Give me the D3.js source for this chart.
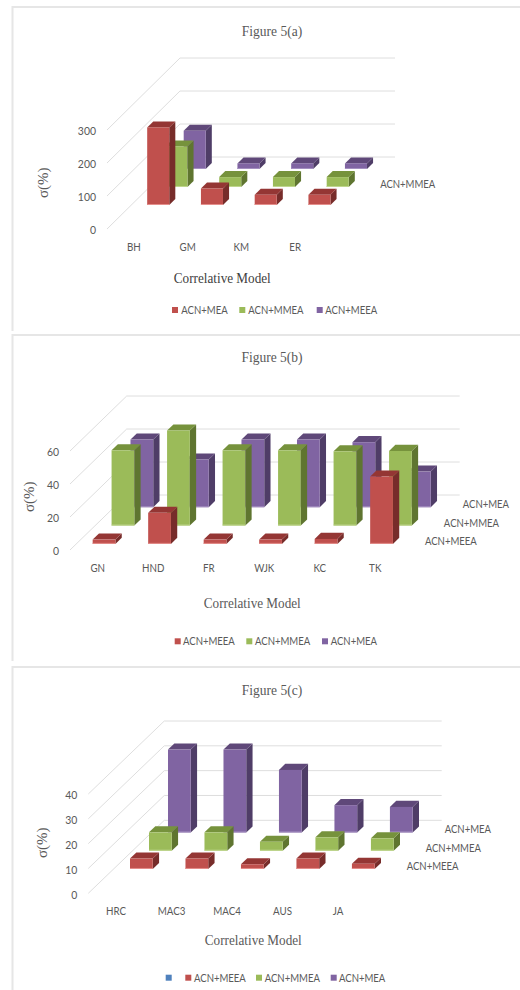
<!DOCTYPE html>
<html>
<head>
<meta charset="utf-8">
<title>Figure 5</title>
<script src="https://cdn.jsdelivr.net/npm/d3@7"></script>
<style>
  html, body { margin: 0; padding: 0; background: #fff; overflow: hidden; }
  svg { display: block; }
  .sans { font-family: Lato, "Liberation Sans", sans-serif; fill: #595959; }
  .serif { font-family: "Liberation Serif", serif; fill: #595959; }
</style>
</head>
<body>
<svg width="520" height="990"></svg>
<script>
const categoriesA = ['BH', 'GM', 'KM', 'ER'];
const seriesA = ['', 'ACN+MEA', 'ACN+MMEA', 'ACN+MEEA'];
const meaA = [235, 50, 31, 31];
const mmeaA = [123, 30, 30, 30];
const meeaA = [116, 17, 17, 17];
const ticksA = [0, 100, 200, 300];

const categoriesB = ['GN', 'HND', 'FR', 'WJK', 'KC', 'TK'];
const seriesB = ['ACN+MEEA', 'ACN+MMEA', 'ACN+MEA'];
const meeaB = [2.6, 18.8, 2.6, 2.6, 3, 40.8];
const mmeaB = [45.6, 57.6, 45.6, 45.6, 45, 45.2];
const meaB = [41, 28.9, 41, 41, 39.4, 21.6];
const ticksB = [0, 20, 40, 60];

const categoriesC = ['HRC', 'MAC3', 'MAC4', 'AUS', 'JA'];
const seriesC = ['', 'ACN+MEEA', 'ACN+MMEA', 'ACN+MEA'];
const meeaC = [4.2, 4.2, 1.9, 4.2, 2.1];
const mmeaC = [7.4, 7.4, 3.6, 5.4, 5];
const meaC = [33.4, 33.4, 25.2, 11, 10.3];
const ticksC = [0, 10, 20, 30, 40];

const faces = {
  red: { front: '#c0504d', top: '#943634', side: '#772c2a', edge: '#e58f8c' },
  green: { front: '#9bbb59', top: '#76923c', side: '#5f7530', edge: '#bfd68e' },
  purple: { front: '#8064a2', top: '#5f4879', side: '#4f3d67', edge: '#a48fc0' },
  blue: { front: '#4f81bd' }
};

const panels = [
  {
    title: 'Figure 5(a)',
    categories: categoriesA, rows: seriesA, ticks: ticksA,
    values: [null, meaA, mmeaA, meeaA],
    colors: [faces.blue, faces.red, faces.green, faces.purple],
    rowLabels: ['ACN+MMEA'],
    frameTop: 7, frameBottom: 331,
    originX: 107, originY: 229, width: 215, height: 99, depthX: 73, depthY: -72,
    titleY: 31, yTitle: [42.7, 182.7], xTitle: [222.3, 277.7], xTitleFill: '#404040',
    legendY: 310,
    legend: [[172, 181.3, 1], [239.3, 248.3, 2], [316.7, 325.3, 3]]
  },
  {
    title: 'Figure 5(b)',
    categories: categoriesB, rows: seriesB, ticks: ticksB,
    values: [meeaB, mmeaB, meaB],
    colors: [faces.red, faces.green, faces.purple],
    rowLabels: seriesB,
    frameTop: 335, frameBottom: 661,
    originX: 70, originY: 550, width: 333, height: 99, depthX: 56.7, depthY: -55,
    titleY: 356.7, yTitle: [28.3, 496.7], xTitle: [252.3, 602.7],
    legendY: 641.3,
    legend: [[174.7, 183, 0], [246.3, 255, 1], [322, 330.7, 2]]
  },
  {
    title: 'Figure 5(c)',
    categories: categoriesC, rows: seriesC, ticks: ticksC,
    values: [null, meeaC, mmeaC, meaC],
    colors: [faces.blue, faces.red, faces.green, faces.purple],
    rowLabels: seriesC.slice(1),
    frameTop: 667, frameBottom: 990,
    originX: 88.3, originY: 893.3, width: 277.4, height: 99.3, depthX: 76, depthY: -73,
    titleY: 689.3, yTitle: [41.7, 842.7], xTitle: [253.3, 940],
    legendY: 977.7,
    legend: [[165.7, null, 0], [185.3, 194, 1], [256, 264.7, 2], [330.7, 339, 3]]
  }
];

const svg = d3.select('svg');
const polygon = d3.line();

// squeeze text sideways, the installed fonts run wider than the chart's
function narrow(sel, factor) {
  sel.each(function() {
    this.setAttribute('textLength', this.getComputedTextLength() * factor);
    this.setAttribute('lengthAdjust', 'spacingAndGlyphs');
  });
}

panels.forEach(p => {
  const g = svg.append('g');

  // top and left edges of the chart area
  g.append('path')
      .attr('d', `M520,${p.frameTop}H12.5V${p.frameBottom}`)
      .attr('fill', 'none')
      .attr('stroke', '#e6e6e6')
      .attr('stroke-width', 2);

  g.append('text')
      .attr('class', 'serif')
      .attr('x', 272)
      .attr('y', p.titleY)
      .attr('dy', '.35em')
      .attr('text-anchor', 'middle')
      .style('font-size', '15px')
      .text(p.title)
      .call(narrow, 0.9);

  const x = d3.scaleBand()
      .domain(p.categories)
      .range([0, p.width])
      .paddingInner(0.59)
      .paddingOuter(0.295);

  const y = d3.scaleLinear()
      .domain([p.ticks[0], p.ticks[p.ticks.length - 1]])
      .range([p.originY, p.originY - p.height]);

  // each row holds one series, the bar takes a third of the row
  const depth = d3.scaleBand()
      .domain(p.rows)
      .range([0, 1])
      .paddingInner(2 / 3)
      .paddingOuter(1 / 3);

  const px = (v, t) => p.originX + v + p.depthX * t;
  const py = (v, t) => y(v) + p.depthY * t;

  // floor-to-wall grid
  const grid = g.append('g')
      .attr('fill', 'none')
      .attr('stroke', '#dedede');

  grid.selectAll('path')
      .data(p.ticks)
      .enter()
      .append('path')
      .attr('d', d => polygon([
        [px(0, 0), py(d, 0)],
        [px(0, 1), py(d, 1)],
        [px(p.width, 1), py(d, 1)]
      ]));

  // back rows go first so the front rows cover them
  d3.range(p.rows.length - 1, -1, -1).forEach(r => {
    if (!p.values[r]) return;
    const row = p.rows[r];
    const t0 = depth(row);
    const t1 = t0 + depth.bandwidth();
    const c = p.colors[r];
    const bars = g.append('g')
        .selectAll('g')
        .data(p.categories.map((name, i) => ({ name, value: p.values[r][i] })))
        .enter()
        .append('g');

    bars.append('path')
        .attr('fill', c.side)
        .attr('d', d => {
          const l = x(d.name) + x.bandwidth();
          return polygon([
            [px(l, t0), py(0, t0)],
            [px(l, t1), py(0, t1)],
            [px(l, t1), py(d.value, t1)],
            [px(l, t0), py(d.value, t0)]
          ]) + 'Z';
        });

    bars.append('path')
        .attr('fill', c.top)
        .attr('d', d => {
          const l = x(d.name);
          const w = x.bandwidth();
          return polygon([
            [px(l, t0), py(d.value, t0)],
            [px(l, t1), py(d.value, t1)],
            [px(l + w, t1), py(d.value, t1)],
            [px(l + w, t0), py(d.value, t0)]
          ]) + 'Z';
        });

    bars.append('rect')
        .attr('fill', c.front)
        .attr('x', d => px(x(d.name), t0))
        .attr('y', d => py(d.value, t0))
        .attr('width', x.bandwidth())
        .attr('height', d => py(0, t0) - py(d.value, t0));

    // pale rim along the foot of the bar
    bars.append('path')
        .attr('stroke', c.edge)
        .attr('fill', 'none')
        .attr('d', d => polygon([
          [px(x(d.name), t0), py(0, t0) - 0.5],
          [px(x(d.name) + x.bandwidth(), t0), py(0, t0) - 0.5]
        ]));
  });

  // value axis along the front edge of the floor
  const yAxis = g.append('g')
      .attr('transform', `translate(${p.originX},1)`)
      .call(d3.axisLeft(y).tickValues(p.ticks).tickSize(0).tickPadding(11));
  yAxis.select('.domain').remove();
  yAxis.selectAll('text')
      .attr('class', 'sans')
      .style('font-size', '12px')
      .call(narrow, 0.87);

  // category axis
  const xAxis = g.append('g')
      .attr('transform', `translate(${p.originX},${p.originY + 11})`)
      .call(d3.axisBottom(x).tickSize(0).tickPadding(3));
  xAxis.select('.domain').remove();
  xAxis.selectAll('text')
      .attr('class', 'sans')
      .style('font-size', '11.5px')
      .call(narrow, 0.85);

  // series names next to the end of each row
  g.selectAll('.row-label')
      .data(p.rowLabels)
      .enter()
      .append('text')
      .attr('class', 'sans row-label')
      .attr('x', d => px(p.width, depth(d) + depth.bandwidth() / 2) + 12.5)
      .attr('y', d => py(0, depth(d) + depth.bandwidth() / 2))
      .attr('dy', '.35em')
      .style('font-size', '11.5px')
      .text(d => d)
      .call(narrow, 0.83);

  g.append('text')
      .attr('class', 'serif')
      .attr('transform', `translate(${p.yTitle[0]},${p.yTitle[1]}) rotate(-90)`)
      .attr('dy', '.35em')
      .attr('text-anchor', 'middle')
      .style('font-size', '15px')
      .text('σ(%)');

  g.append('text')
      .attr('class', 'serif')
      .attr('x', p.xTitle[0])
      .attr('y', p.xTitle[1])
      .attr('dy', '.35em')
      .attr('text-anchor', 'middle')
      .style('font-size', '15.5px')
      .style('fill', p.xTitleFill || null)
      .text('Correlative Model')
      .call(narrow, 0.85);

  const legend = g.append('g')
      .selectAll('g')
      .data(p.legend)
      .enter()
      .append('g');

  legend.append('rect')
      .attr('x', d => d[0])
      .attr('y', p.legendY - 3)
      .attr('width', 6)
      .attr('height', 6)
      .attr('fill', d => p.colors[d[2]].front);

  legend.filter(d => d[1] !== null)
      .append('text')
      .attr('class', 'sans')
      .attr('x', d => d[1])
      .attr('y', p.legendY)
      .attr('dy', '.35em')
      .style('font-size', '11.5px')
      .text(d => p.rows[d[2]])
      .call(narrow, 0.83);
});
</script>
</body>
</html>
